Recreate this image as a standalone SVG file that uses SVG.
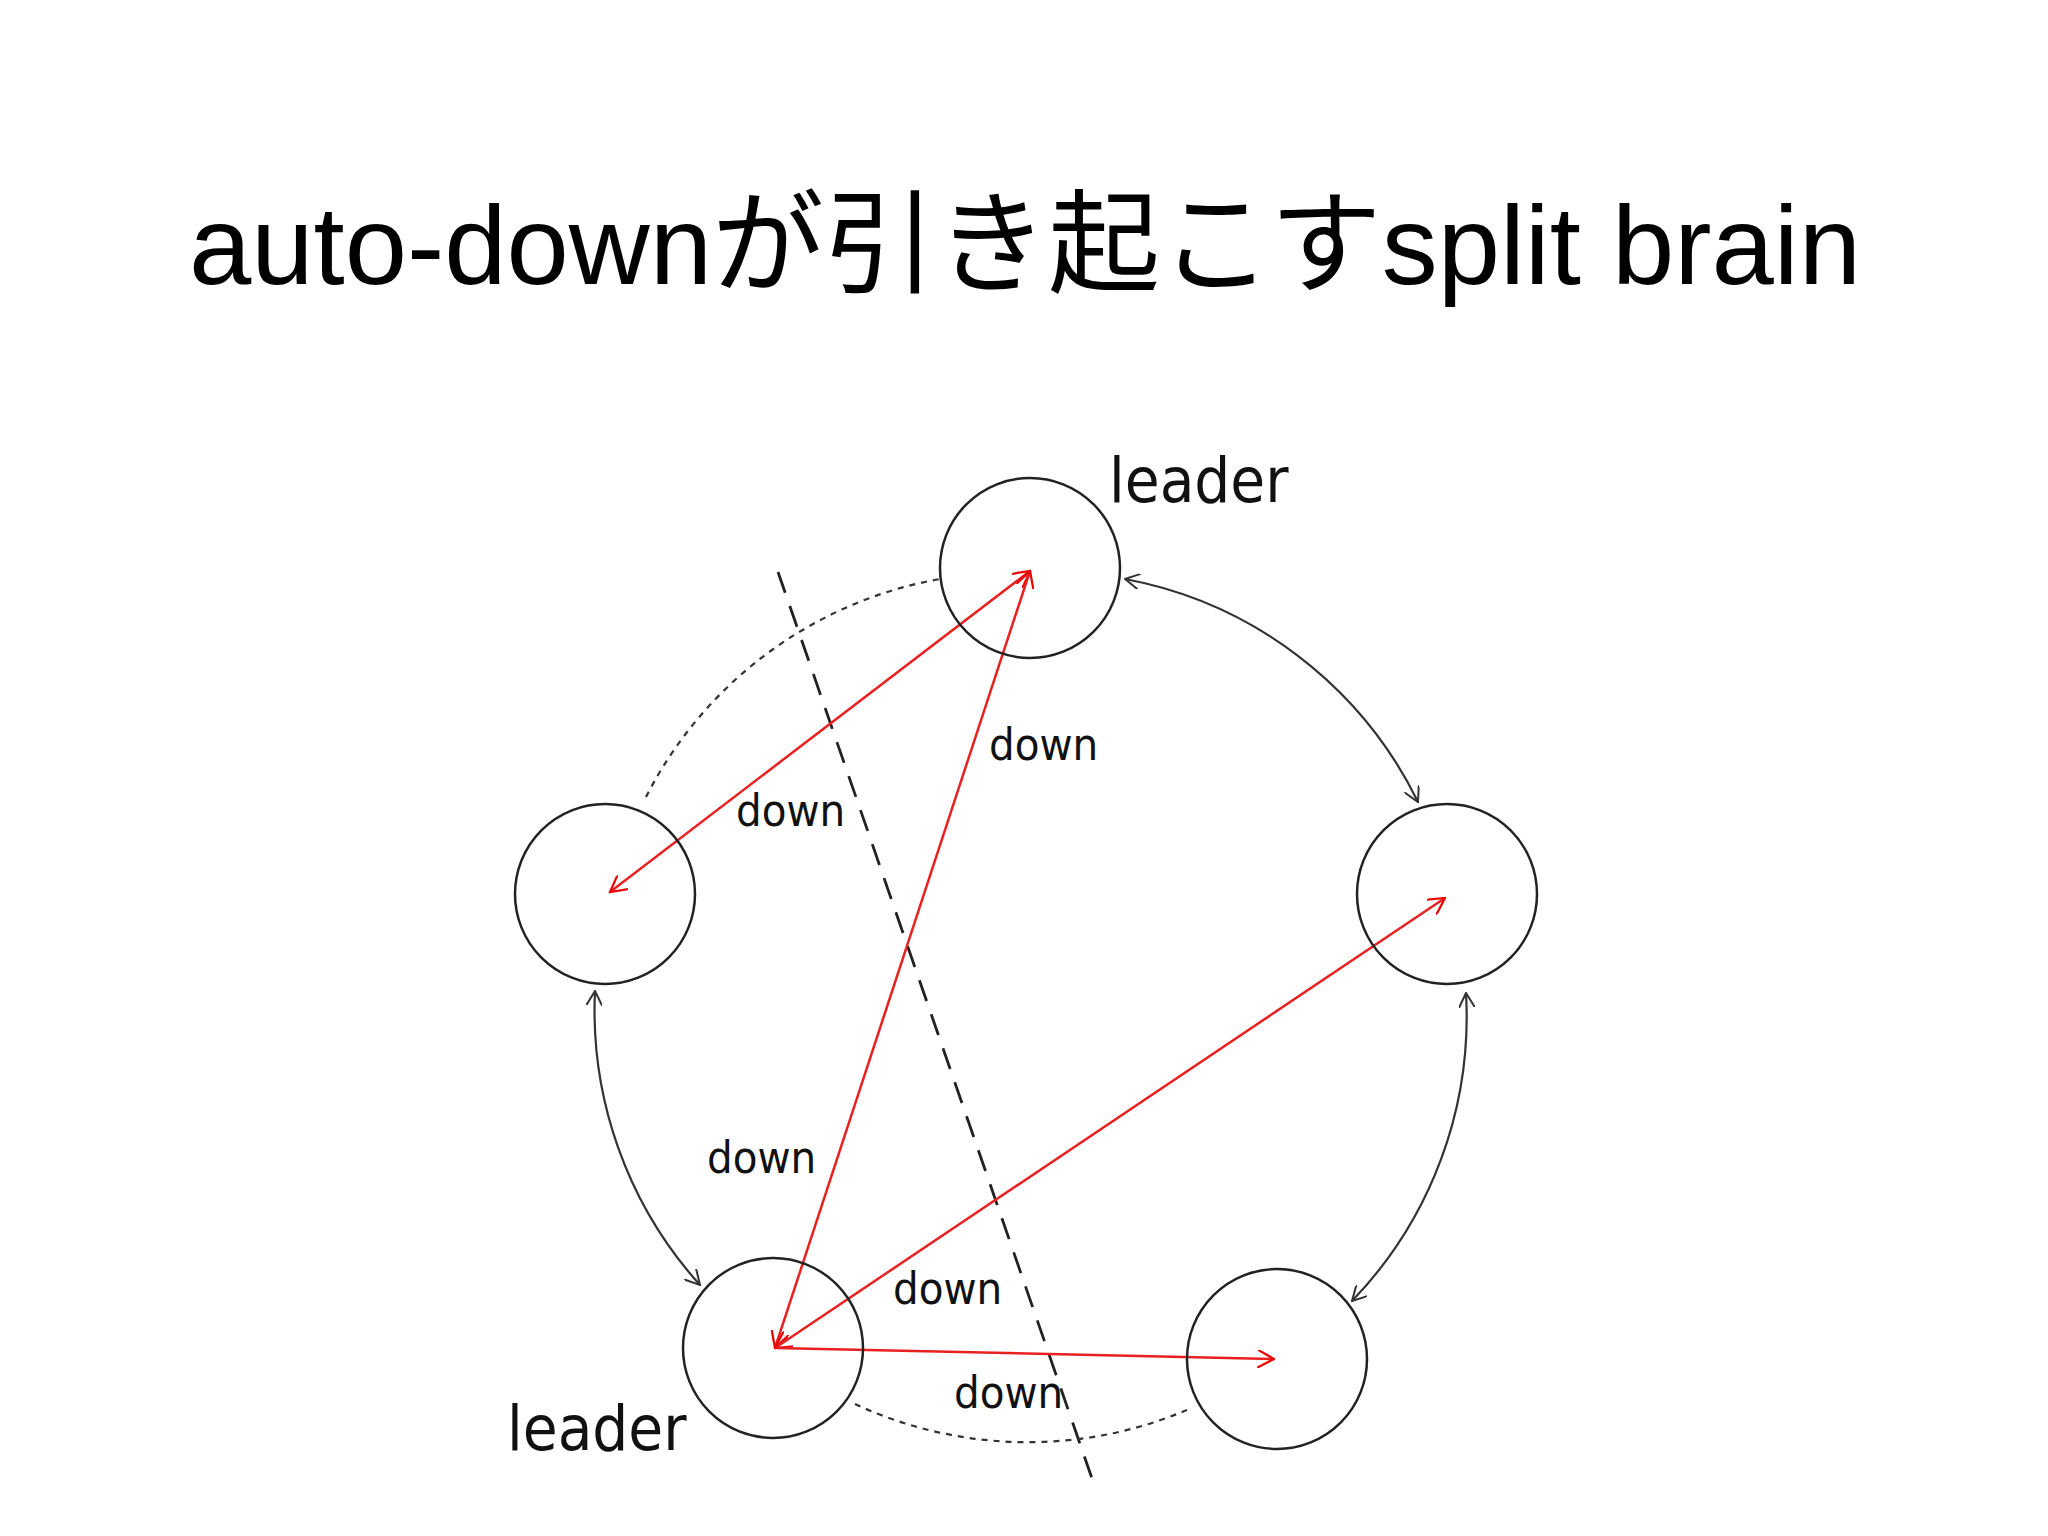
<svg xmlns="http://www.w3.org/2000/svg" width="2048" height="1536" viewBox="0 0 2048 1536">
<defs>
<marker id="rh" viewBox="0 0 12 12" refX="11" refY="6" markerWidth="18" markerHeight="18" markerUnits="userSpaceOnUse" orient="auto-start-reverse"><path d="M0,0 L11,6 L0,12" fill="none" stroke="#e00" stroke-width="1.5"/></marker>
<marker id="bh" viewBox="0 0 12 12" refX="11" refY="6" markerWidth="16" markerHeight="16" markerUnits="userSpaceOnUse" orient="auto-start-reverse"><path d="M0,0 L11,6 L0,12" fill="none" stroke="#333" stroke-width="1.5"/></marker>
<style>
.n{fill:none;stroke:#222;stroke-width:2.5}
.r{stroke:#e82020;stroke-width:2.5;fill:none}
.b{stroke:#333;stroke-width:2.2;fill:none}
.d{stroke:#333;stroke-width:2.2;fill:none;stroke-dasharray:6 6}
.sep{stroke:#222;stroke-width:2.8;fill:none;stroke-dasharray:22 14}
.lbl{font-family:"DejaVu Sans Condensed","DejaVu Sans",sans-serif;font-size:45px;fill:#111}
.ld{font-family:"DejaVu Sans Condensed","DejaVu Sans",sans-serif;font-size:63px;fill:#111}
</style>
</defs>
<rect width="2048" height="1536" fill="#fff"/>
<text x="189" y="284" font-family="Liberation Sans,'Noto Sans CJK JP',sans-serif" font-size="112" textLength="1672" lengthAdjust="spacingAndGlyphs">auto-downが引き起こすsplit brain</text>
<g transform="translate(-10,-6)">
<g id="connectors">
<line x1="788" y1="578" x2="1106" y2="1496" class="sep"/>
<path class="d" d="M656,803 A410,410 0 0 1 950,585"/>
<path class="d" d="M865,1410 A410,410 0 0 0 1197,1416"/>
<path class="b" d="M1135,585 A410,410 0 0 1 1428,808" marker-start="url(#bh)" marker-end="url(#bh)"/>
<path class="b" d="M605,997 A410,410 0 0 0 710,1291" marker-start="url(#bh)" marker-end="url(#bh)"/>
<path class="b" d="M1476,999 A410,410 0 0 1 1362,1307" marker-start="url(#bh)" marker-end="url(#bh)"/>
<line class="r" x1="1040" y1="577" x2="620" y2="898" marker-start="url(#rh)" marker-end="url(#rh)"/>
<line class="r" x1="785" y1="1354" x2="1040" y2="577" marker-start="url(#rh)" marker-end="url(#rh)"/>
<line class="r" x1="785" y1="1354" x2="1455" y2="904" marker-start="url(#rh)" marker-end="url(#rh)"/>
<line class="r" x1="785" y1="1354" x2="1284" y2="1365" marker-end="url(#rh)"/>
<text class="lbl" x="999" y="766">down</text>
<text class="lbl" x="746" y="832">down</text>
<text class="lbl" x="717" y="1179">down</text>
<text class="lbl" x="903" y="1310">down</text>
<text class="lbl" x="964" y="1414">down</text>
</g>
<g id="n-top"><circle class="n" cx="1040" cy="574" r="90"/><text class="ld" x="1119" y="508">leader</text></g>
<g id="n-left"><circle class="n" cx="615" cy="900" r="90"/></g>
<g id="n-right"><circle class="n" cx="1457" cy="900" r="90"/></g>
<g id="n-bl"><circle class="n" cx="783" cy="1354" r="90"/><text class="ld" x="517" y="1456">leader</text></g>
<g id="n-br"><circle class="n" cx="1287" cy="1365" r="90"/></g>
</g>
</svg>
